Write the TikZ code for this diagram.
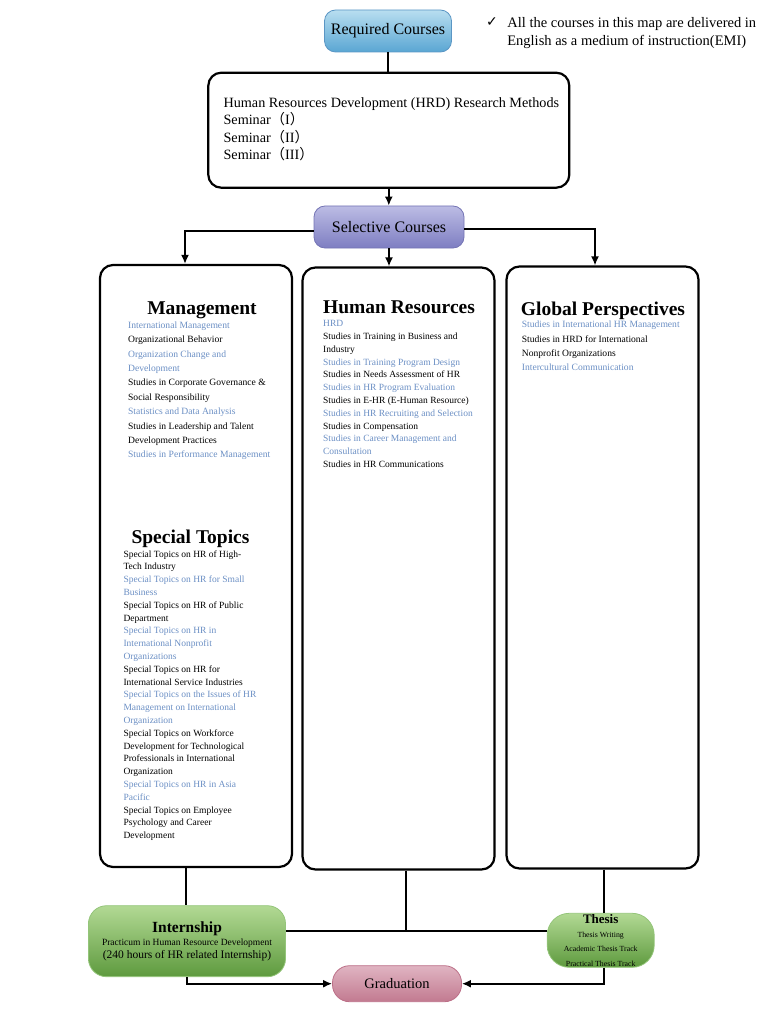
\documentclass[tikz,border=0pt]{standalone}
\usepackage{fontspec}
\setmainfont{Liberation Serif}
\newfontfamily\cjk{Noto Sans CJK SC}
\newfontfamily\symb{DejaVu Sans}
\usepackage{xcolor}
\usetikzlibrary{arrows.meta,positioning}
\definecolor{CourseBlue}{HTML}{6B8FC4}
\definecolor{ReqTop}{HTML}{B8DEF0}
\definecolor{ReqBottom}{HTML}{5AA6D3}
\definecolor{ReqEdge}{HTML}{5B96C4}
\definecolor{SelTop}{HTML}{BCBCE4}
\definecolor{SelBottom}{HTML}{7E7EC2}
\definecolor{SelEdge}{HTML}{7474B4}
\definecolor{GradTop}{HTML}{E0B4C2}
\definecolor{GradBottom}{HTML}{C27A90}
\definecolor{GradEdge}{HTML}{BC7088}
\definecolor{GreenTop}{HTML}{B2D994}
\definecolor{GreenBottom}{HTML}{5E9A3E}
\definecolor{GreenEdge}{HTML}{94C57A}
\newcommand{\blu}[1]{\textcolor{CourseBlue}{#1}}
\newcommand{\fs}[2]{\fontsize{#1}{#2}\selectfont}

\begin{document}
\begin{tikzpicture}[x=1pt, y=1pt, >={Latex[length=9pt,width=8pt]}, line width=1.7pt]
\tikzset{pill/.style={align=center, inner sep=0pt, line width=0.8pt}, reqbox/.style={pill, rounded corners=11pt, draw=ReqEdge, top color=ReqTop, bottom color=ReqBottom, minimum width=127pt, minimum height=42pt, font=\fs{16}{18}}, selbox/.style={pill, rounded corners=11pt, draw=SelEdge, top color=SelTop, bottom color=SelBottom, minimum width=150pt, minimum height=42pt, font=\fs{16}{18}}, gradbox/.style={pill, rounded corners=17pt, draw=GradEdge, top color=GradTop, bottom color=GradBottom, minimum width=129pt, minimum height=36pt, font=\fs{14.5}{17}}, greenbox/.style={pill, draw=GreenEdge, top color=GreenTop, bottom color=GreenBottom}, plainbox/.style={draw=black, line width=2.2pt, rounded corners=13pt}, areabox/.style={plainbox, minimum width=192pt, minimum height=602pt, inner sep=0pt}, areatitle/.style={anchor=base, inner sep=0pt, font=\bfseries\fs{19.5}{22}}, itemlist/.style={anchor=north west, align=left, inner sep=0pt}, flow/.style={line width=1.7pt}}
\useasboundingbox (0,0) rectangle (768,-1024);
% required part
\node[reqbox] (req) at (388,-31) {Required Courses};
\node[font=\symb\fs{14}{16}, anchor=base, inner sep=0pt] (tick) at (492,-26.7) {✓};
\node[itemlist, font=\fs{14.5}{17.3}] (emi) at (506.5,-16.8) {All the courses in this map are delivered in\\English as a medium of instruction(EMI)};
\node[plainbox, minimum width=361pt, minimum height=115pt] (meth) at (388.8,-130.2) {};
\node[itemlist, font=\fs{14.2}{17.4}] (meth-list) at (222.7,-96.8) {Human Resources Development (HRD) Research Methods\\Seminar{\cjk（}I{\cjk）}\\Seminar{\cjk（}II{\cjk）}\\Seminar{\cjk（}III{\cjk）}};
\node[selbox] (sel) at (389,-227) {Selective Courses};
% three areas
\node[areabox] (mgmt) at (196,-566) {};
\node[areabox] (hr) at (398.5,-568.5) {};
\node[areabox] (glob) at (602.5,-567.5) {};
\node[areatitle] (mgmt-t) at (202,-314.3) {Management};
\node[itemlist, font=\fs{9.6}{14.4}] (mgmt-list) at (127.3,-320.7) {\blu{International Management}\\Organizational Behavior\\\blu{Organization Change and}\\\blu{Development}\\Studies in Corporate Governance \&\\Social Responsibility\\\blu{Statistics and Data Analysis}\\Studies in Leadership and Talent\\Development Practices\\\blu{Studies in Performance Management}};
\node[areatitle] (spec-t) at (190.5,-543.3) {Special Topics};
\node[itemlist, font=\fs{9.5}{12.8}] (spec-list) at (122.7,-549.5) {Special Topics on HR of High-\\Tech Industry\\\blu{Special Topics on HR for Small}\\\blu{Business}\\Special Topics on HR of Public\\Department\\\blu{Special Topics on HR in}\\\blu{International Nonprofit}\\\blu{Organizations}\\Special Topics on HR for\\International Service Industries\\\blu{Special Topics on the Issues of HR}\\\blu{Management on International}\\\blu{Organization}\\Special Topics on Workforce\\Development for Technological\\Professionals in International\\Organization\\\blu{Special Topics on HR in Asia}\\\blu{Pacific}\\Special Topics on Employee\\Psychology and Career\\Development};
\node[areatitle] (hr-t) at (399,-313.3) {Human Resources};
\node[itemlist, font=\fs{9.5}{12.8}] (hr-list) at (322.3,-319.7) {\blu{HRD}\\Studies in Training in Business and\\Industry\\\blu{Studies in Training Program Design}\\Studies in Needs Assessment of HR\\\blu{Studies in HR Program Evaluation}\\Studies in E-HR (E-Human Resource)\\\blu{Studies in HR Recruiting and Selection}\\Studies in Compensation\\\blu{Studies in Career Management and}\\\blu{Consultation}\\Studies in HR Communications};
\node[areatitle] (glob-t) at (603,-315) {Global Perspectives};
\node[itemlist, font=\fs{9.6}{14.4}] (glob-list) at (521,-320.1) {\blu{Studies in International HR Management}\\Studies in HRD for International\\Nonprofit Organizations\\\blu{Intercultural Communication}};
% final stage
\node[greenbox, rounded corners=18pt, minimum width=197pt, minimum height=71pt, font=\fs{11.5}{13.2}] (intern) at (187,-941.2) {{\bfseries\fs{15.5}{16}Internship}\\{\fs{9.5}{12}Practicum in Human Resource Development}\\(240 hours of HR related Internship)};
\node[greenbox, rounded corners=22pt, minimum width=107pt, minimum height=54pt, font=\fs{7.8}{14.2}] (thesis) at (600.7,-940.3) {{\bfseries\fs{13}{13}Thesis}\\Thesis Writing\\Academic Thesis Track\\Practical Thesis Track};
\node[gradbox] (grad) at (397,-983.7) {Graduation};
% connectors
\draw[flow] (req.south) -- (req.south |- meth.north);
\draw[flow,->] (meth.south) -- (meth.south |- sel.north);
\draw[flow,->] ([yshift=-4pt]sel.west) -| ([xshift=-11pt]mgmt.north);
\draw[flow,->] (sel.south) -- (sel.south |- hr.north);
\draw[flow,->] ([yshift=-2pt]sel.east) -| ([xshift=-7.5pt]glob.north);
\coordinate (rail) at (0,-930.7);
\draw[flow] ([xshift=-10pt]mgmt.south) -- ([xshift=-10pt]mgmt.south |- intern.north);
\draw[flow] ([xshift=7.5pt]hr.south) -- ([xshift=7.5pt]hr.south |- rail);
\draw[flow] (intern.east |- rail) -- (thesis.west |- rail);
\draw[flow] ([xshift=1.5pt]glob.south) -- ([xshift=1.5pt]glob.south |- thesis.north);
\draw[flow,->] (intern.south) |- (grad.west);
\draw[flow,->] ([xshift=3.3pt]thesis.south) |- (grad.east);
\end{tikzpicture}
\end{document}
